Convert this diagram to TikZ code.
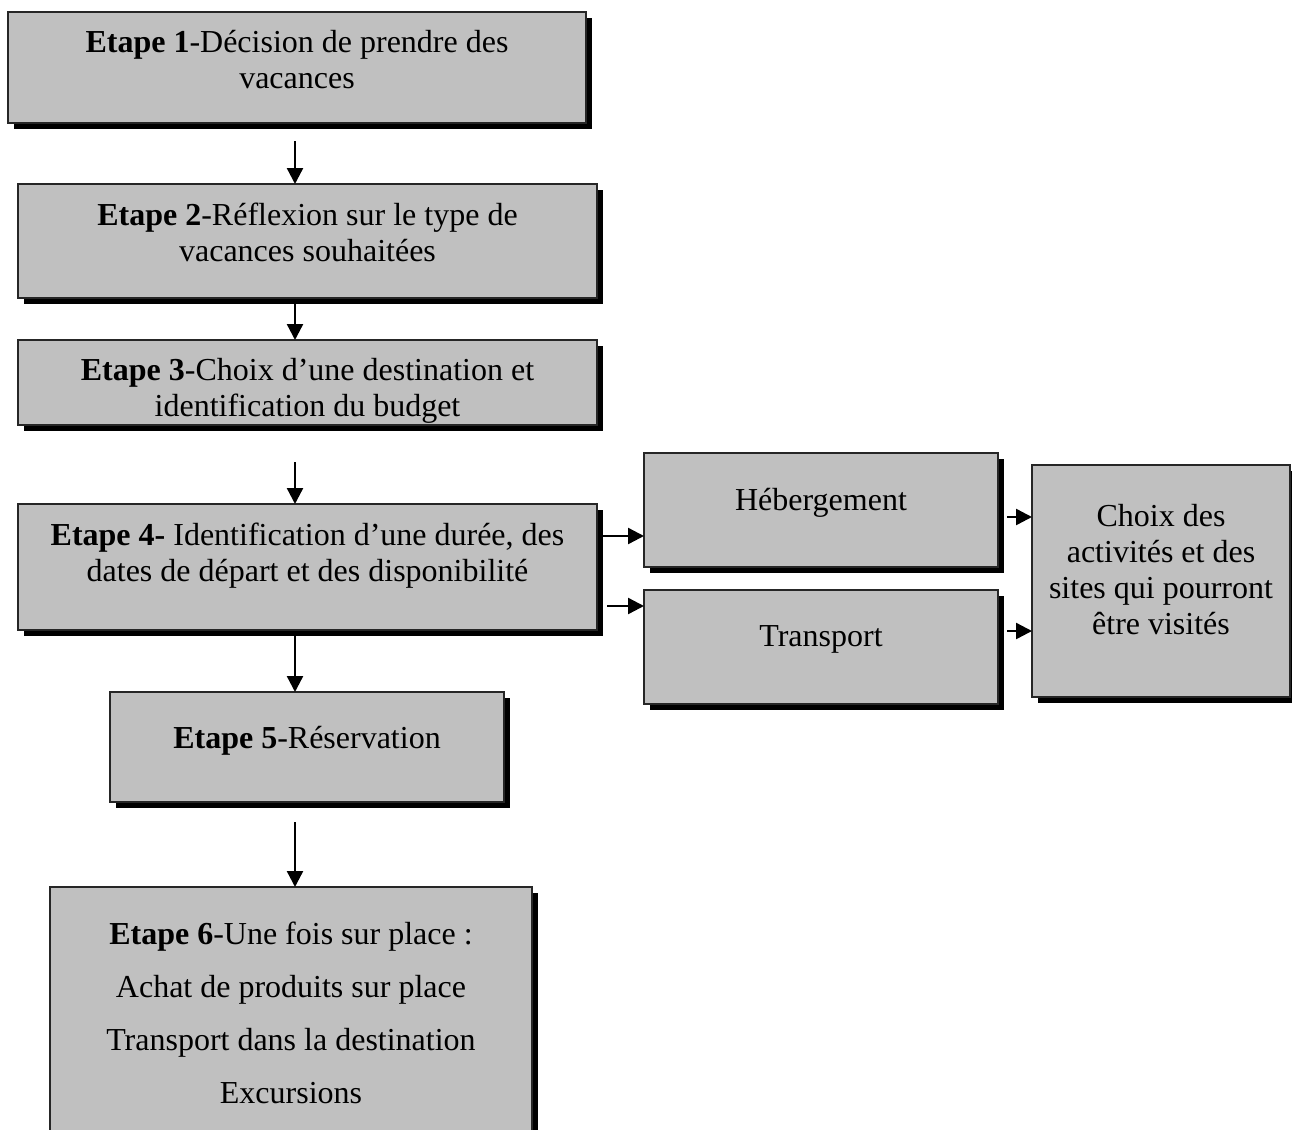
\documentclass[tikz,border=0pt]{standalone}
\usepackage{fontspec}
\setmainfont{Liberation Serif}
\usetikzlibrary{shadows,arrows.meta,calc}
\definecolor{boxgray}{HTML}{C0C0C0}
% line struts: fixed height/depth so every text line has the same pitch
\newcommand\ls{\rule[-11pt]{0pt}{36pt}}
\newcommand\lw{\rule[-16pt]{0pt}{53pt}}

\begin{document}
\begin{tikzpicture}[x=1pt,y=-1pt,
  stepbox/.style={draw=black!85, line width=1.4pt, fill=boxgray, inner sep=0pt, outer sep=0pt,
    drop shadow={shadow xshift=6pt, shadow yshift=-6pt, fill=black, opacity=1}},
  txt/.style={align=center, inner sep=0pt, font=\fontsize{32}{36}\selectfont},
  txtwide/.style={align=center, inner sep=0pt, font=\fontsize{32}{53}\selectfont},
  arr/.style={line width=2.4pt, -{Triangle[width=16pt,length=16pt]}}]

\useasboundingbox (0,0) rectangle (1292,1129);
\clip (0,0) rectangle (1292,1129);
\fill[white] (0,0) rectangle (1292,1129);

% main column of steps
\node[stepbox, minimum width=578pt, minimum height=111pt] (b1) at (297,67.5) {};
\node[stepbox, minimum width=579pt, minimum height=114pt] (b2) at (307.5,241) {};
\node[stepbox, minimum width=579pt, minimum height=85pt]  (b3) at (307.5,382.5) {};
\node[stepbox, minimum width=579pt, minimum height=126pt] (b4) at (307.5,567) {};
\node[stepbox, minimum width=394pt, minimum height=110pt] (b5) at (307,747) {};
\node[stepbox, minimum width=482pt, minimum height=263pt] (b6) at (291,1018.5) {};

% side branch
\node[stepbox, minimum width=354pt, minimum height=114pt] (h) at (821,510) {};
\node[stepbox, minimum width=354pt, minimum height=114pt] (t) at (821,647) {};
\node[stepbox, minimum width=258pt, minimum height=232pt] (c) at (1161,581) {};

% texts
\node[txt] (t1) at (297,64) {\ls\textbf{Etape 1}-Décision de prendre des\\\ls vacances};
\node[txt] (t2) at (307.5,236) {\ls\textbf{Etape 2}-Réflexion sur le type de\\\ls vacances souhaitées};
\node[txt] (t3) at (307.5,391) {\ls\textbf{Etape 3}-Choix d’une destination et\\\ls identification du budget};
\node[txt] (t4) at (307.5,556) {\ls\textbf{Etape 4-} Identification d’une durée, des\\\ls dates de départ et des disponibilité};
\node[txt] (t5) at (307,741) {\ls\textbf{Etape 5}-Réservation};
\node[txtwide] (t6) at (291,1013) {\lw\textbf{Etape 6}-Une fois sur place :\\\lw Achat de produits sur place\\\lw Transport dans la destination\\\lw Excursions};
\node[txt] (th) at (821,503) {\ls Hébergement};
\node[txt] (tt) at (821,639) {\ls Transport};
\node[txt] (tc) at (1161,573) {\ls Choix des\\\ls activités et des\\\ls sites qui pourront\\\ls être visités};

% connectors
\coordinate (axis) at (295,0);
\draw[arr] ($(b1.south -| axis)+(0,18)$) -- (b2.north -| axis);
\draw[arr] ($(b2.south -| axis)+(0,6)$) -- (b3.north -| axis);
\draw[arr] ($(b3.south -| axis)+(0,37)$) -- (b4.north -| axis);
\draw[arr] ($(b4.south -| axis)+(0,6)$) -- (b5.north -| axis);
\draw[arr] ($(b5.south -| axis)+(0,20)$) -- (b6.north -| axis);

\coordinate (a1) at (603,536);
\coordinate (a2) at (607,606);
\coordinate (a3) at (1007,517);
\coordinate (a4) at (1007,631);
\draw[arr] (a1) -- (a1 -| h.west);
\draw[arr] (a2) -- (a2 -| t.west);
\draw[arr] (a3) -- (a3 -| c.west);
\draw[arr] (a4) -- (a4 -| c.west);
\end{tikzpicture}
\end{document}
